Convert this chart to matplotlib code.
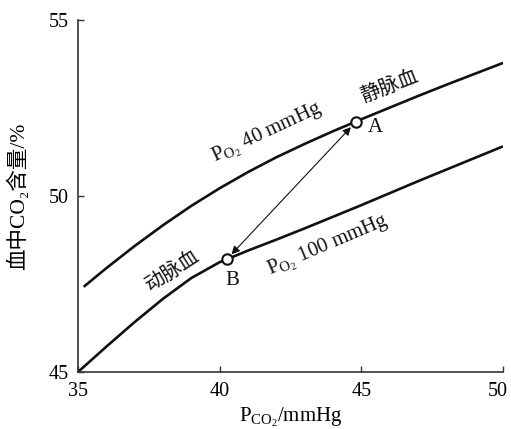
import matplotlib
matplotlib.use("Agg")
import matplotlib.pyplot as plt
from matplotlib.transforms import ScaledTranslation

# Data
x_upper = [35.2, 36, 37, 38, 39, 40, 41, 42, 43, 44, 45, 46, 47, 48, 49, 50]
y_upper = [47.42, 47.95, 48.58, 49.17, 49.72, 50.22, 50.68, 51.10, 51.48, 51.84,
           52.18, 52.51, 52.84, 53.16, 53.47, 53.78]
x_lower = [35, 36, 37, 38, 39, 40, 40.25, 41, 42, 43, 44, 45, 46, 47, 48, 49, 50]
y_lower = [45.0, 45.72, 46.42, 47.08, 47.67, 48.12, 48.2, 48.45, 48.76, 49.08,
           49.41, 49.74, 50.08, 50.42, 50.75, 51.08, 51.41]
point_A = (44.8, 52.1)
point_B = (40.25, 48.2)
x_ticks = [35, 40, 45, 50]
y_ticks = [45, 50, 55]

plt.rcParams['font.family'] = ['Liberation Serif', 'Noto Sans CJK SC', 'DejaVu Serif']
plt.rcParams['mathtext.fontset'] = 'custom'
plt.rcParams['mathtext.rm'] = 'Liberation Serif'
plt.rcParams['mathtext.it'] = 'Liberation Serif:italic'

fig = plt.figure(figsize=(5.11, 4.29), dpi=100)
ax = fig.add_axes([78/511, 1-372/429, (503-78)/511, (372-20)/429])

ax.plot(x_upper, y_upper, color='#111111', lw=1.9, solid_capstyle='butt')
ax.plot(x_lower, y_lower, color='#111111', lw=1.9, solid_capstyle='butt')

ax.annotate('', xy=point_B, xytext=point_A,
            arrowprops=dict(arrowstyle='<|-|>', color='#111111', lw=0.8,
                            shrinkA=5, shrinkB=5, mutation_scale=12))
for p in (point_A, point_B):
    ax.plot([p[0]], [p[1]], 'o', ms=7.5, mfc='white', mec='#111111', mew=1.5, zorder=5)

ax.set_xlim(35, 50)
ax.set_ylim(45, 55)
ax.set_xticks(x_ticks)
ax.set_yticks(y_ticks)
ax.tick_params(direction='in', length=4.5, width=1, labelsize=14.5, pad=7, color='#333333')
for s in ('top', 'right'):
    ax.spines[s].set_visible(False)
for s in ('left', 'bottom'):
    ax.spines[s].set_linewidth(1.2)
    ax.spines[s].set_color('#333333')

# nudge the last x tick label slightly left so it stays inside the figure
last = ax.get_xticklabels()[-1]
last.set_transform(last.get_transform() + ScaledTranslation(-5/100, 0, fig.dpi_scale_trans))

ax.set_xlabel(r'P$_{\mathrm{CO_2}}$/mmHg', fontsize=15, labelpad=4)
ax.set_ylabel('血中CO₂含量/%', fontsize=15.5, labelpad=14)

kw = dict(ha='center', va='center', rotation_mode='anchor', color='#111111')
ax.text(41.68, 51.79, r'P$_{\mathrm{O_2}}$ 40 mmHg', rotation=25, fontsize=15, **kw)
ax.text(43.84, 48.58, r'P$_{\mathrm{O_2}}$ 100 mmHg', rotation=23, fontsize=15, **kw)
ax.text(46.0, 53.07, '静脉血', rotation=21, fontsize=14.5, **kw)
ax.text(38.36, 47.84, '动脉血', rotation=33, fontsize=14.5, **kw)
ax.text(45.5, 51.96, 'A', fontsize=15, **kw)
ax.text(40.45, 47.61, 'B', fontsize=15, **kw)

fig.savefig('out.png', dpi=100)
